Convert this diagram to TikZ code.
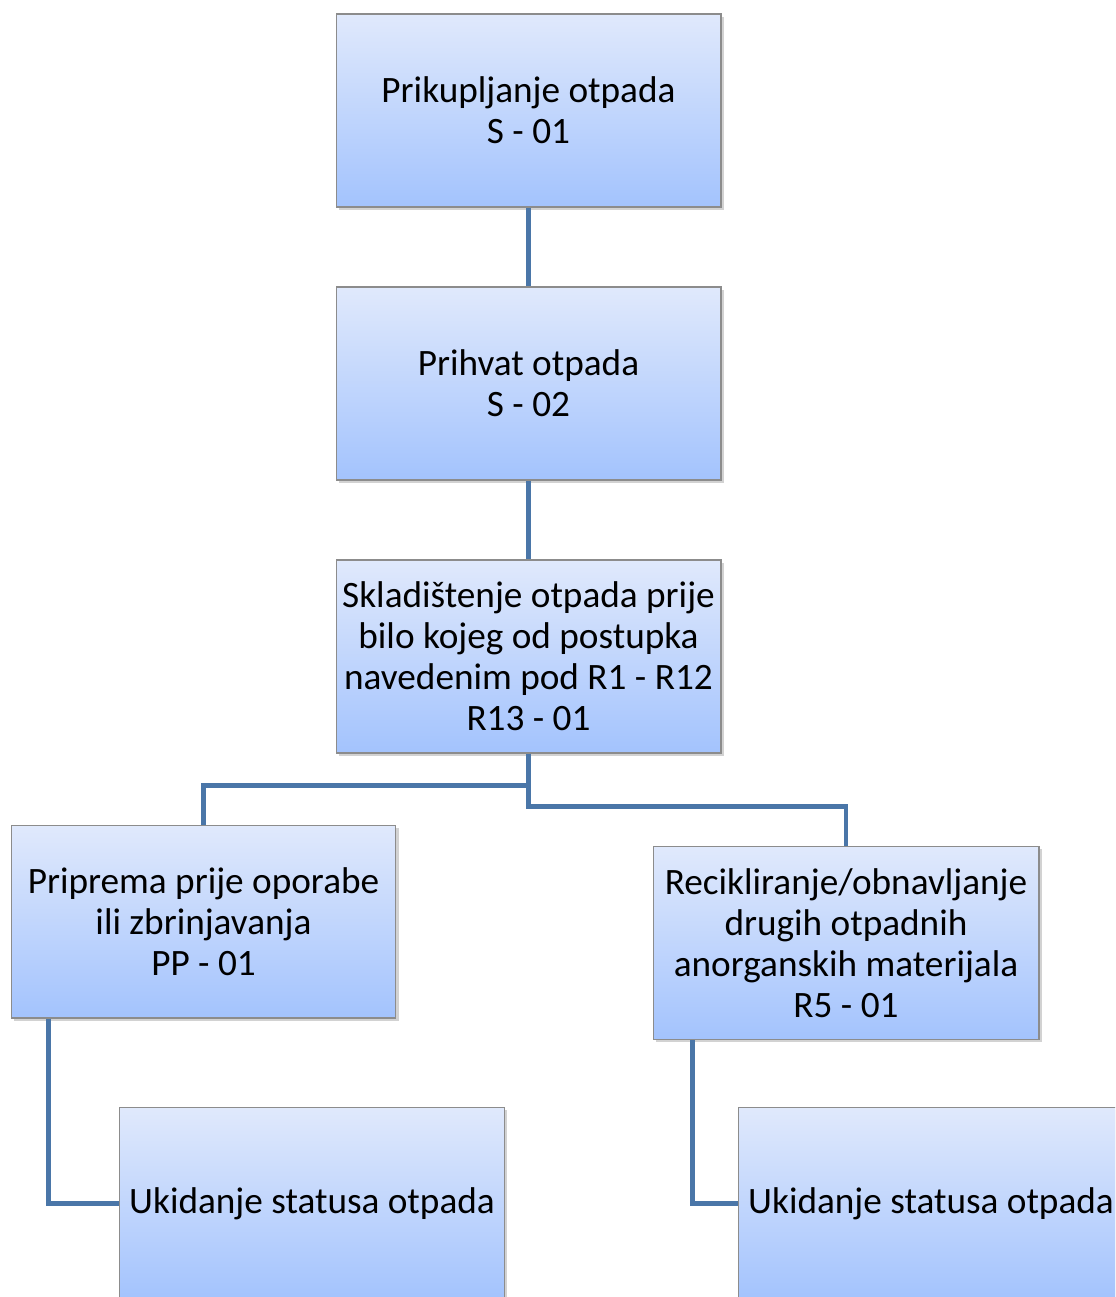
\documentclass[tikz,border=0pt]{standalone}
\usepackage{fontspec}
\setmainfont{Carlito}
\usetikzlibrary{shadows}
\definecolor{boxtop}{RGB}{224,233,252}
\definecolor{boxbot}{RGB}{163,195,253}
\definecolor{boxedge}{RGB}{140,140,140}
\definecolor{linkblue}{RGB}{74,118,168}
\tikzset{
  stepbox/.style={draw=boxedge, line width=0.6pt, top color=boxtop, bottom color=boxbot,
    minimum width=7.7cm, minimum height=3.86cm, inner sep=2pt, align=center,
    font=\fontsize{21.2}{23.4}\selectfont,
    drop shadow={opacity=0.35, shadow xshift=1.5pt, shadow yshift=-1.5pt}},
  link/.style={draw=linkblue, line width=2.3pt}
}
\begin{document}
\begin{tikzpicture}[x=0.02cm, y=-0.02cm]
  \clip (0,0) rectangle (1115,1297);
  \fill [white] (0,0) rectangle (1115,1297);

  % process steps
  \node [stepbox] (s1) at (528.5,110.5) {Prikupljanje otpada\\S - 01};
  \node [stepbox] (s2) at (528.5,383.5) {Prihvat otpada\\S - 02};
  \node [stepbox] (r13) at (528.5,656.5) {Skladištenje otpada prije\\bilo kojeg od postupka\\navedenim pod R1 - R12\\R13 - 01};
  \node [stepbox] (pp) at (203.5,921.5) {Priprema prije oporabe\\ili zbrinjavanja\\PP - 01};
  \node [stepbox, minimum width=7.72cm] (r5) at (846,943) {Recikliranje/obnavljanje\\drugih otpadnih\\anorganskih materijala\\R5 - 01};
  \node [stepbox] (uk1) at (312,1203.5) {Ukidanje statusa otpada};
  \node [stepbox] (uk2) at (931,1203.5) {Ukidanje statusa otpada};

  % links
  \draw [link] (s1.south) -- (s2.north);
  \draw [link] (s2.south) -- (r13.north);
  \draw [link] (r13.south) -- ++(0,32) -| (pp.north);
  \draw [link] (r13.south) -- ++(0,53) -| (r5.north);
  \draw [link] ([xshift=0.76cm]pp.south west) |- (uk1.west);
  \draw [link] ([xshift=0.8cm]r5.south west) |- (uk2.west);
\end{tikzpicture}
\end{document}
